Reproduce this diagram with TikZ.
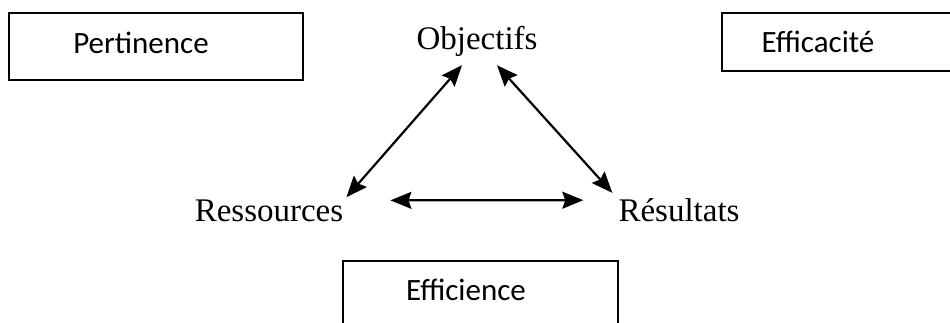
\documentclass[tikz,border=0pt]{standalone}
\usepackage{fontspec}
\setmainfont{Liberation Serif}
\newfontfamily\boxfont{Carlito}
\usetikzlibrary{arrows.meta}
\begin{document}
\begin{tikzpicture}[x=1pt,y=-1pt,
  frame/.style={draw, line width=1.8pt, inner sep=0pt, anchor=north west},
  boxlabel/.style={font=\boxfont\fontsize{31}{35}\selectfont, inner sep=0pt},
  term/.style={font=\fontsize{33}{36}\selectfont, inner sep=0pt, anchor=base},
  link/.style={line width=2.2pt,
    {Stealth[length=21pt,width=17pt,inset=3pt]}-{Stealth[length=21pt,width=17pt,inset=3pt]}}]
  \useasboundingbox[fill=white] (0,0) rectangle (950,323);

  % framed criteria
  \node[frame, minimum width=294pt, minimum height=67pt] (pertbox) at (8,12) {};
  \node[boxlabel] (pert) at (141,43) {Pertinence};
  \node[frame, minimum width=240pt, minimum height=58pt] (efcbox) at (721,12) {};
  \node[boxlabel] (efc) at (818,42) {Efficacité};
  \node[frame, minimum width=275pt, minimum height=70pt] (efsbox) at (342,260) {};
  \node[boxlabel] (efs) at (466,290) {Efficience};

  % triangle of terms
  \node[term] (obj) at (477,50) {Objectifs};
  \node[term] (ress) at (269,222) {Ressources};
  \node[term] (res) at (679,222) {Résultats};

  % double-headed links (shifts are in page units, y upwards)
  \draw[link] ([shift={(3pt,3pt)}]ress.north east) -- ([shift={(-15pt,-8pt)}]obj.south);
  \draw[link] ([shift={(20pt,-8pt)}]obj.south) -- ([shift={(-6pt,6pt)}]res.north west);
  \draw[link] ([shift={(47pt,11pt)}]ress.east) -- ([shift={(-35pt,10.5pt)}]res.west);
\end{tikzpicture}
\end{document}
